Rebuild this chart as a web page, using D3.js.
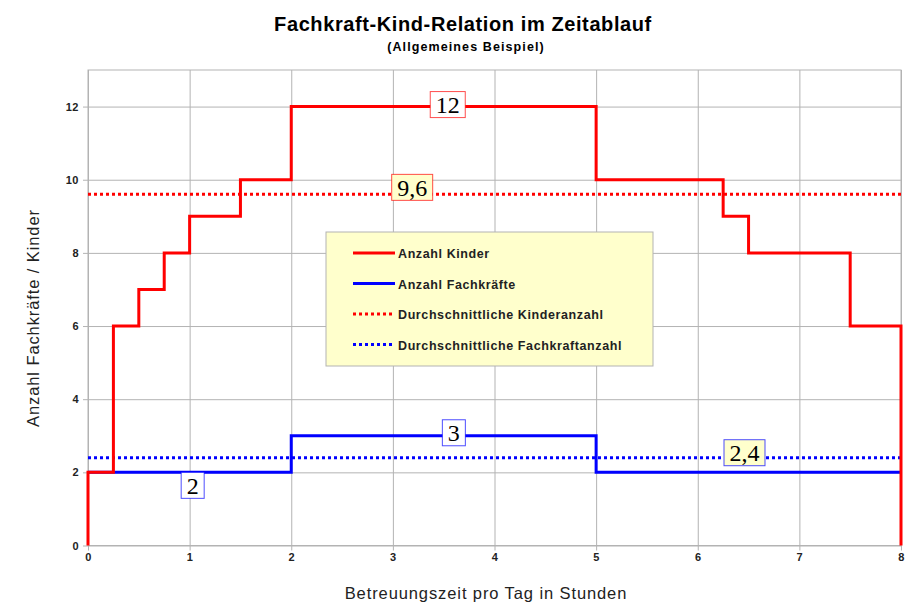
<!DOCTYPE html>
<meta charset="utf-8">
<head>
    <title>Fachkraft-Kind-Relation</title>
    <script src="https://d3js.org/d3.v7.min.js"></script>
    <style>
        body { margin: 0; background: #fff; font-family: 'Liberation Sans', Arial, sans-serif; }
        svg { display: block; }
        .grid line { stroke: #b3b3b3; stroke-width: 1; }
        .grid path { stroke-width: 0; }
        .tick text { font-size: 11px; font-weight: bold; fill: #222; letter-spacing: 0.5px; }
        .tick line { stroke: #b3b3b3; }
        .domain { stroke: #b3b3b3; }
        text.title { font-size: 20px; font-weight: bold; letter-spacing: 0.6px; }
        text.subtitle { font-size: 12.5px; font-weight: bold; letter-spacing: 1.1px; }
        text.label { font-size: 16.5px; fill: #222; letter-spacing: 0.9px; }
        text.legend { font-size: 12.5px; font-weight: bold; fill: #222; letter-spacing: 0.6px; }
        text.value { font-family: 'Liberation Serif', 'DejaVu Serif', serif; font-size: 24px; }
    </style>
</head>
<body>
<svg width="922" height="613"></svg>
<script>
    // Anzahl Kinder (Stufenfunktion, Wert gilt ab Zeitpunkt)
    const kinderZeit = [0, 0, 0.25, 0.5, 0.75, 1, 1.5, 2, 5, 6.25, 6.5, 7.5, 8];
    const kinder = [0, 2, 6, 7, 8, 9, 10, 12, 10, 9, 8, 6, 0];

    // Anzahl Fachkräfte
    const fachZeit = [0, 2, 5, 8];
    const fach = [2, 3, 2, 2];

    // Durchschnittswerte
    const avgKinder = 9.6;
    const avgFach = 2.4;

    const xTicks = [0, 1, 2, 3, 4, 5, 6, 7, 8];
    const yTicks = [0, 2, 4, 6, 8, 10, 12];

    const legendNames = ['Anzahl Kinder', 'Anzahl Fachkräfte',
        'Durchschnittliche Kinderanzahl', 'Durchschnittliche Fachkraftanzahl'];

    // Beschriftungen an den Linien: Zeitpunkt, Wert, Text
    const labelZeit = [3.54, 3.19, 3.6, 1.03, 6.46];
    const labelWert = [12, 9.6, 3, 2, 2.4];
    const labelText = ['12', '9,6', '3', '2', '2,4'];

    const red = '#ff0000';
    const blue = '#0000ff';

    const svg = d3.select('svg');
    const mLeft = 88, mTop = 70, width = 813, height = 475.5;

    const x = d3.scaleLinear().domain([0, 8]).range([0, width]);
    const y = d3.scaleLinear().domain([0, 13]).range([height, 0]);

    const chart = svg.append('g').attr('transform', `translate(${mLeft}, ${mTop})`);

    // Gitter
    chart.append('g')
        .attr('class', 'grid')
        .attr('transform', `translate(0, ${height})`)
        .call(d3.axisBottom(x).tickValues(xTicks).tickSize(-height).tickFormat(''));
    chart.append('g')
        .attr('class', 'grid')
        .call(d3.axisLeft(y).tickValues(yTicks).tickSize(-width).tickFormat(''));

    chart.append('rect')
        .attr('width', width).attr('height', height)
        .attr('fill', 'none').attr('stroke', '#b3b3b3');

    // Achsen
    chart.append('g')
        .attr('transform', `translate(0, ${height})`)
        .call(d3.axisBottom(x).tickValues(xTicks).tickSize(5).tickPadding(3).tickFormat(d3.format('d')))
        .call(g => g.select('.domain').remove());
    chart.append('g')
        .call(d3.axisLeft(y).tickValues(yTicks).tickSize(5).tickPadding(4).tickFormat(d3.format('d')))
        .call(g => g.select('.domain').remove());

    // Durchschnittslinien
    chart.append('line')
        .attr('x1', x(0)).attr('x2', x(8))
        .attr('y1', y(avgKinder)).attr('y2', y(avgKinder))
        .attr('stroke', red).attr('stroke-width', 3).attr('stroke-dasharray', '3,3');
    chart.append('line')
        .attr('x1', x(0)).attr('x2', x(8))
        .attr('y1', y(avgFach)).attr('y2', y(avgFach))
        .attr('stroke', blue).attr('stroke-width', 3).attr('stroke-dasharray', '3,3');

    const step = d3.line()
        .x(d => x(d[0]))
        .y(d => y(d[1]))
        .curve(d3.curveStepAfter);

    chart.append('path')
        .datum(d3.zip(fachZeit, fach))
        .attr('d', step)
        .attr('fill', 'none').attr('stroke', blue).attr('stroke-width', 3);

    chart.append('path')
        .datum(d3.zip(kinderZeit, kinder))
        .attr('d', step)
        .attr('fill', 'none').attr('stroke', red).attr('stroke-width', 3);

    // Wertbeschriftungen
    const labelColors = [red, red, blue, blue, blue];
    const labelFills = ['#ffffff', '#ffffcc', '#ffffff', '#ffffff', '#ffffcc'];
    const labelShift = [-2, -7, -3, 13, -5];

    labelText.forEach((t, i) => {
        const cx = x(labelZeit[i]);
        const cy = y(labelWert[i]) + labelShift[i];
        const g = chart.append('g');
        const txt = g.append('text')
            .attr('class', 'value')
            .attr('x', cx).attr('y', cy + 8.5)
            .attr('text-anchor', 'middle')
            .text(t);
        const bb = txt.node().getBBox();
        g.insert('rect', 'text')
            .attr('x', bb.x - 5.5).attr('y', cy - 13)
            .attr('width', bb.width + 11).attr('height', 26)
            .attr('fill', labelFills[i])
            .attr('stroke', labelColors[i]).attr('stroke-opacity', 0.7);
    });

    // Legende
    const legend = svg.append('g').attr('transform', 'translate(326, 232)');
    legend.append('rect')
        .attr('width', 327).attr('height', 134)
        .attr('fill', '#ffffcc').attr('stroke', '#b3b3b3');
    const legendColors = [red, blue, red, blue];
    legendNames.forEach((n, i) => {
        const ly = 21 + i * 30.5;
        legend.append('line')
            .attr('x1', 27).attr('x2', 69).attr('y1', ly).attr('y2', ly)
            .attr('stroke', legendColors[i]).attr('stroke-width', 3)
            .attr('stroke-dasharray', i > 1 ? '3,3' : null);
        legend.append('text')
            .attr('class', 'legend')
            .attr('x', 72).attr('y', ly + 5)
            .text(n);
    });

    // Titel
    svg.append('text')
        .attr('class', 'title')
        .attr('x', 463).attr('y', 31)
        .attr('text-anchor', 'middle')
        .text('Fachkraft-Kind-Relation im Zeitablauf');
    svg.append('text')
        .attr('class', 'subtitle')
        .attr('x', 466).attr('y', 51)
        .attr('text-anchor', 'middle')
        .text('(Allgemeines Beispiel)');

    svg.append('text')
        .attr('class', 'label')
        .attr('x', -318).attr('y', 39)
        .attr('transform', 'rotate(-90)')
        .attr('text-anchor', 'middle')
        .text('Anzahl Fachkräfte / Kinder');
    svg.append('text')
        .attr('class', 'label')
        .attr('x', 486).attr('y', 599)
        .attr('text-anchor', 'middle')
        .text('Betreuungszeit pro Tag in Stunden');
</script>
</body>
